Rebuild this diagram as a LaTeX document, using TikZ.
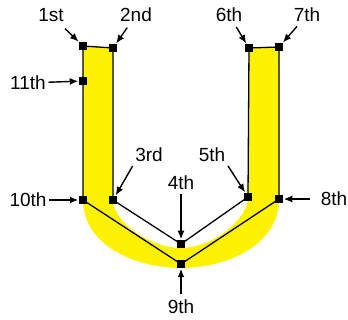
\documentclass[tikz,border=0pt]{standalone}
\usepackage{fontspec}
\setmainfont{Liberation Sans}
\usetikzlibrary{arrows.meta}
\begin{document}
\begin{tikzpicture}[x=1pt,y=-1pt,
  sq/.style={rectangle,draw=none,fill=black,minimum size=7.5pt,inner sep=0pt,outer sep=0pt},
  lab/.style={inner sep=0.5pt,font=\fontsize{19}{21}\selectfont},
  arr/.style={line width=1.4pt,-{Latex[length=8.5pt,width=7pt]},shorten >=1pt},
  edgeline/.style={line width=1.3pt,line join=miter}]
\useasboundingbox (0,0) rectangle (348,320);
\fill[white] (0,0) rectangle (348,320);
% yellow U band
\fill[yellow] (83,46) -- (113,48) -- (113,200)
  .. controls (113,222) and (150,248) .. (181,248)
  .. controls (212,248) and (248,220) .. (248,197)
  -- (249,48) -- (279,47) -- (279,199)
  .. controls (279,245) and (227,268) .. (181,268)
  .. controls (135,268) and (83,245) .. (83,200) -- cycle;
% points
\node[sq] (n1) at (83,46) {};
\node[sq] (n2) at (113,48) {};
\node[sq] (n3) at (113,200) {};
\node[sq] (n4) at (181,244) {};
\node[sq] (n5) at (248,197) {};
\node[sq] (n6) at (249,48) {};
\node[sq] (n7) at (279,47) {};
\node[sq] (n8) at (279,199) {};
\node[sq] (n9) at (181,264) {};
\node[sq] (n10) at (83,200) {};
\node[sq] (n11) at (83,81) {};
% outline
\draw[edgeline] (n1.center) -- (n2.center) -- (n3.center) -- (n4.center) -- (n5.center)
  -- (n6.center) -- (n7.center) -- (n8.center) -- (n9.center) -- (n10.center)
  -- (n11.center) -- cycle;
% labels
\node[lab] (l1) at (51,15) {1st};
\node[lab] (l2) at (136,15) {2nd};
\node[lab] (l6) at (229,15) {6th};
\node[lab] (l7) at (307,15) {7th};
\node[lab] (l11) at (28,83) {11th};
\node[lab] (l10) at (28,200) {10th};
\node[lab] (l3) at (149,155) {3rd};
\node[lab] (l4) at (181,183) {4th};
\node[lab] (l5) at (212,155) {5th};
\node[lab] (l8) at (334,199) {8th};
\node[lab] (l9) at (181,307) {9th};
% arrows
\draw[arr,shorten <=9pt] (l1) -- (n1);
\draw[arr,shorten <=6pt] (l2) -- (n2);
\draw[arr,shorten <=5pt] (l6) -- (n6);
\draw[arr,shorten <=5pt] (l7) -- (n7);
\draw[arr,shorten <=2pt] (l11) -- (n11);
\draw[arr,shorten <=2pt] (l10) -- (n10);
\draw[arr,shorten <=10pt] (l8) -- (n8);
\draw[arr,shorten <=4pt] (l3.south west) -- (n3);
\draw[arr,shorten <=4pt] (l5.south east) -- (n5);
\draw[arr,shorten <=3pt] (l4) -- (n4);
\draw[arr,shorten <=5pt] (l9) -- (n9);
\end{tikzpicture}
\end{document}
